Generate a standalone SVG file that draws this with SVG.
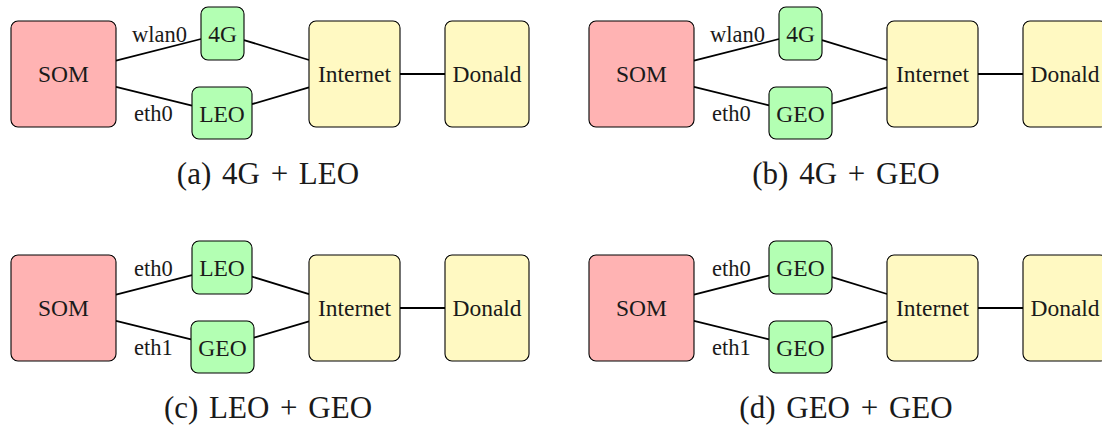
<svg xmlns="http://www.w3.org/2000/svg" width="1102" height="425" viewBox="0 0 1102 425">
  <style>
    .box { stroke: #000; stroke-width: 1.1; }
    .som { fill: #FFB3B3; }
    .link { fill: #B3FFB3; }
    .net { fill: #FFF9C2; }
    .lbl { font-family: "Liberation Serif", "Times New Roman", serif; font-size: 23.5px; fill: #1a1a1a; text-anchor: middle; }
    .if { font-family: "Liberation Serif", "Times New Roman", serif; font-size: 22.5px; fill: #1a1a1a; text-anchor: start; }
    .cap { font-family: "Liberation Serif", "Times New Roman", serif; font-size: 31px; word-spacing: 3px; fill: #1a1a1a; text-anchor: middle; }
    .edge { stroke: #000; stroke-width: 1.8; fill: none; }
  </style>

  <!-- (a) 4G + LEO -->
  <g id="panel-a">
    <g id="connectors-a">
      <line class="edge" x1="116" y1="60.6" x2="201" y2="39"/>
      <line class="edge" x1="116" y1="86.9" x2="192" y2="105.6"/>
      <line class="edge" x1="244" y1="40.1" x2="309" y2="60"/>
      <line class="edge" x1="252" y1="104.2" x2="309" y2="87.4"/>
      <line class="edge" x1="400" y1="74" x2="445" y2="74"/>
    </g>
    <g id="a-som"><rect class="box som" x="11" y="21" width="105" height="106" rx="7"/><text class="lbl" x="63.5" y="82">SOM</text></g>
    <g id="a-4g"><rect class="box link" x="201" y="7" width="43" height="53" rx="7"/><text class="lbl" x="222.5" y="42">4G</text></g>
    <g id="a-leo"><rect class="box link" x="192" y="87" width="60" height="52" rx="7"/><text class="lbl" x="222" y="121.5">LEO</text></g>
    <g id="a-internet"><rect class="box net" x="309" y="21" width="91" height="106" rx="7"/><text class="lbl" x="354.5" y="82">Internet</text></g>
    <g id="a-donald"><rect class="box net" x="445" y="21" width="84" height="106" rx="7"/><text class="lbl" x="487" y="82">Donald</text></g>
    <text class="if" x="132" y="41.5">wlan0</text>
    <text class="if" x="134" y="121">eth0</text>
    <text class="cap" x="268" y="184">(a) 4G + LEO</text>
  </g>

  <!-- (b) 4G + GEO -->
  <g id="panel-b" transform="translate(578,0)">
    <g id="connectors-b">
      <line class="edge" x1="116" y1="60.6" x2="201" y2="39"/>
      <line class="edge" x1="116" y1="86.9" x2="191" y2="105.3"/>
      <line class="edge" x1="244" y1="40.1" x2="309" y2="60"/>
      <line class="edge" x1="254" y1="103.7" x2="309" y2="87.4"/>
      <line class="edge" x1="400" y1="74" x2="445" y2="74"/>
    </g>
    <g id="b-som"><rect class="box som" x="11" y="21" width="105" height="106" rx="7"/><text class="lbl" x="63.5" y="82">SOM</text></g>
    <g id="b-4g"><rect class="box link" x="201" y="7" width="43" height="53" rx="7"/><text class="lbl" x="222.5" y="42">4G</text></g>
    <g id="b-geo"><rect class="box link" x="191" y="87" width="63" height="52" rx="7"/><text class="lbl" x="222.5" y="121.5">GEO</text></g>
    <g id="b-internet"><rect class="box net" x="309" y="21" width="91" height="106" rx="7"/><text class="lbl" x="354.5" y="82">Internet</text></g>
    <g id="b-donald"><rect class="box net" x="445" y="21" width="84" height="106" rx="7"/><text class="lbl" x="487" y="82">Donald</text></g>
    <text class="if" x="132" y="41.5">wlan0</text>
    <text class="if" x="134" y="121">eth0</text>
    <text class="cap" x="268" y="184">(b) 4G + GEO</text>
  </g>

  <!-- (c) LEO + GEO -->
  <g id="panel-c" transform="translate(0,234)">
    <g id="connectors-c">
      <line class="edge" x1="116" y1="60.6" x2="192" y2="41.2"/>
      <line class="edge" x1="116" y1="86.9" x2="191" y2="105.3"/>
      <line class="edge" x1="252" y1="42.7" x2="309" y2="60.1"/>
      <line class="edge" x1="254" y1="103.7" x2="309" y2="87.4"/>
      <line class="edge" x1="400" y1="74" x2="445" y2="74"/>
    </g>
    <g id="c-som"><rect class="box som" x="11" y="21" width="105" height="106" rx="7"/><text class="lbl" x="63.5" y="82">SOM</text></g>
    <g id="c-leo"><rect class="box link" x="192" y="7" width="60" height="53" rx="7"/><text class="lbl" x="222" y="42">LEO</text></g>
    <g id="c-geo"><rect class="box link" x="191" y="87" width="63" height="52" rx="7"/><text class="lbl" x="222.5" y="121.5">GEO</text></g>
    <g id="c-internet"><rect class="box net" x="309" y="21" width="91" height="106" rx="7"/><text class="lbl" x="354.5" y="82">Internet</text></g>
    <g id="c-donald"><rect class="box net" x="445" y="21" width="84" height="106" rx="7"/><text class="lbl" x="487" y="82">Donald</text></g>
    <text class="if" x="134" y="41.5">eth0</text>
    <text class="if" x="134" y="121">eth1</text>
    <text class="cap" x="268" y="184">(c) LEO + GEO</text>
  </g>

  <!-- (d) GEO + GEO -->
  <g id="panel-d" transform="translate(578,234)">
    <g id="connectors-d">
      <line class="edge" x1="116" y1="60.6" x2="191" y2="41.5"/>
      <line class="edge" x1="116" y1="86.9" x2="191" y2="105.3"/>
      <line class="edge" x1="254" y1="43.2" x2="309" y2="60"/>
      <line class="edge" x1="254" y1="103.7" x2="309" y2="87.4"/>
      <line class="edge" x1="400" y1="74" x2="445" y2="74"/>
    </g>
    <g id="d-som"><rect class="box som" x="11" y="21" width="105" height="106" rx="7"/><text class="lbl" x="63.5" y="82">SOM</text></g>
    <g id="d-geo-top"><rect class="box link" x="191" y="7" width="63" height="53" rx="7"/><text class="lbl" x="222.5" y="42">GEO</text></g>
    <g id="d-geo-bottom"><rect class="box link" x="191" y="87" width="63" height="52" rx="7"/><text class="lbl" x="222.5" y="121.5">GEO</text></g>
    <g id="d-internet"><rect class="box net" x="309" y="21" width="91" height="106" rx="7"/><text class="lbl" x="354.5" y="82">Internet</text></g>
    <g id="d-donald"><rect class="box net" x="445" y="21" width="84" height="106" rx="7"/><text class="lbl" x="487" y="82">Donald</text></g>
    <text class="if" x="134" y="41.5">eth0</text>
    <text class="if" x="134" y="121">eth1</text>
    <text class="cap" x="268" y="184">(d) GEO + GEO</text>
  </g>
</svg>
